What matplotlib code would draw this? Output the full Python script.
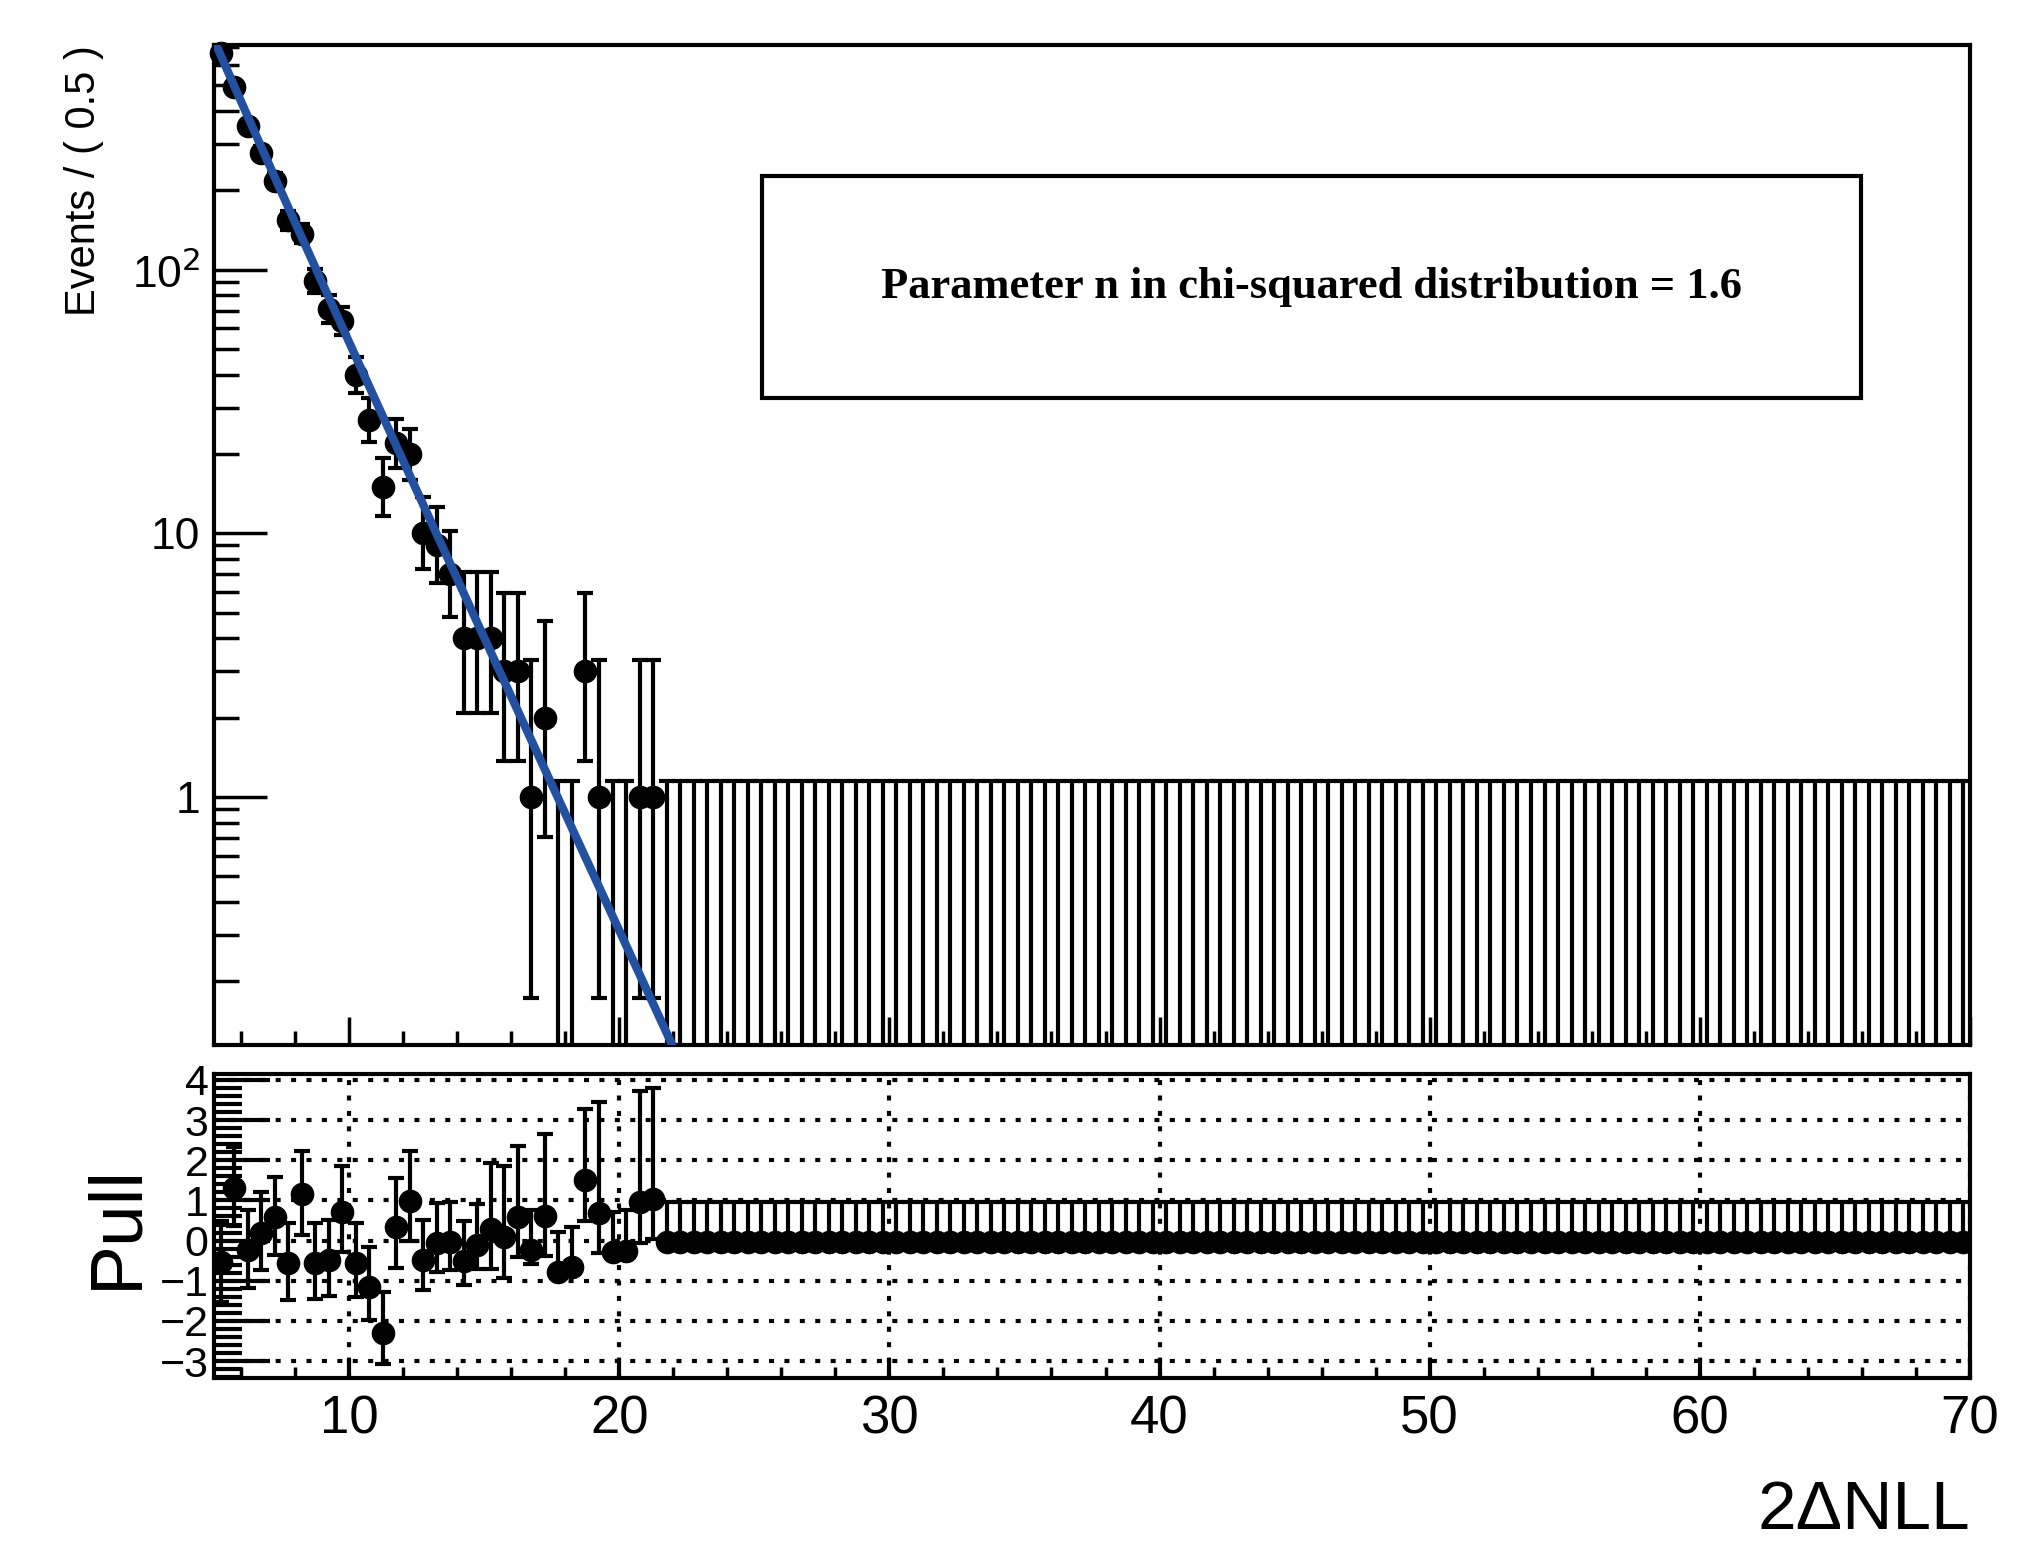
import numpy as np
import matplotlib
matplotlib.use("Agg")
import matplotlib.pyplot as plt
from matplotlib.ticker import LogLocator, NullFormatter, FixedLocator, MultipleLocator

plt.rcParams['font.family'] = ['Liberation Sans', 'DejaVu Sans']

bin_width = 0.5
x_min, x_max = 5.0, 70.0
centers = np.arange(x_min + bin_width / 2, x_max, bin_width)

counts_head = [665, 495, 352, 277, 218, 154, 137, 91, 71, 64, 40, 27, 15, 22, 20,
               10, 9, 7, 4, 4, 4, 3, 3, 1, 2, 0, 0, 3, 1, 0, 0, 1, 1]
counts = np.zeros(len(centers))
counts[:len(counts_head)] = counts_head

pulls_head = [-0.54, 1.32, -0.23, 0.2, 0.58, -0.56, 1.15, -0.56, -0.48, 0.72, -0.56,
              -1.15, -2.29, 0.33, 0.99, -0.49, -0.07, -0.04, -0.51, -0.1, 0.29, 0.08,
              0.58, -0.23, 0.62, -0.78, -0.66, 1.5, 0.68, -0.29, -0.25, 0.95, 1.03]
pulls = np.full(len(centers), -0.03)
pulls[:len(pulls_head)] = pulls_head

chi2_n = 1.6
norm = 12500.0

# Garwood Poisson intervals for small counts
garwood = {0: (0.0, 1.148), 1: (0.173, 3.300), 2: (0.708, 4.638), 3: (1.367, 5.918),
           4: (2.086, 7.163)}
lo = np.zeros(len(counts)); hi = np.zeros(len(counts))
for i, n in enumerate(counts):
    n = int(n)
    if n in garwood:
        l, h = garwood[n]
    else:
        l = n + 0.5 - np.sqrt(n + 0.25); h = n + 0.5 + np.sqrt(n + 0.25)
    lo[i] = n - l; hi[i] = h - n

model = lambda x: norm * x ** (chi2_n / 2 - 1) * np.exp(-x / 2)
mu = model(centers)
plo = np.where(counts > mu, 1.0, lo / np.where(hi > 0, hi, 1))
phi = np.where(counts > mu, hi / np.where(lo > 0, lo, 1), 1.0)
zero = counts == 0
plo[zero] = 0.0; phi[zero] = 1.0

fig = plt.figure(figsize=(20.23, 15.57), dpi=100)
ax = fig.add_axes([0.1058, 0.329, 0.868, 0.642])
axp = fig.add_axes([0.1058, 0.115, 0.868, 0.195])

ymin, ymax = 0.115, 711
floor = ymin * 0.5
y_eb = np.where(zero, floor, counts)
bot = np.maximum(counts - lo, floor)
ekw = dict(fmt='none', ecolor='black', elinewidth=3, capsize=6, capthick=3)
ax.errorbar(centers, y_eb, yerr=[y_eb - bot, counts + hi - y_eb], **ekw)
nz = ~zero
ax.plot(centers[nz], counts[nz], 'o', color='black', ms=16, zorder=3, clip_on=False)
xf = np.linspace(x_min, x_max, 2000)
ax.plot(xf, model(xf), color='#2350a0', lw=6, zorder=4)
ax.set_yscale('log')
ax.set_xlim(x_min, x_max); ax.set_ylim(ymin, ymax)
ax.yaxis.set_major_locator(FixedLocator([1, 10, 100]))
ax.set_yticklabels(['1', '10', r'10$^{2}$'])
ax.yaxis.set_minor_locator(LogLocator(base=10, subs=np.arange(2, 10)))
ax.yaxis.set_minor_formatter(NullFormatter())
ax.xaxis.set_major_locator(MultipleLocator(10))
ax.xaxis.set_minor_locator(MultipleLocator(2))
ax.set_xticklabels([])
ax.tick_params(axis='both', which='major', direction='in', length=38, width=2.5, labelsize=32, pad=10)
ax.tick_params(axis='both', which='minor', direction='in', length=18, width=2.5)
ax.tick_params(axis='x', which='major', length=20)
ax.tick_params(axis='x', which='minor', length=10)
ax.set_ylabel('Events / ( 0.5 )', fontsize=30, loc='top', labelpad=20)
for s in ax.spines.values():
    s.set_linewidth(3)
ax.add_patch(plt.Rectangle((0.312, 0.647), 0.626, 0.222, transform=ax.transAxes,
                           fill=False, lw=3, color='black'))
ax.text(0.625, 0.758, 'Parameter n in chi-squared distribution = 1.6', transform=ax.transAxes,
        ha='center', va='center', fontsize=32, fontweight='bold', family='Liberation Serif')

axp.errorbar(centers, pulls, yerr=[plo, phi], **ekw)
axp.plot(centers, pulls, 'o', color='black', ms=16, zorder=3)
axp.set_xlim(x_min, x_max); axp.set_ylim(-3.42, 4.14)
axp.yaxis.set_major_locator(FixedLocator([-3, -2, -1, 0, 1, 2, 3, 4]))
axp.set_yticklabels(['\u22123', '\u22122', '\u22121', '0', '1', '2', '3', '4'])
axp.yaxis.set_minor_locator(MultipleLocator(0.2))
axp.xaxis.set_major_locator(MultipleLocator(10))
axp.xaxis.set_minor_locator(MultipleLocator(2))
axp.grid(True, which='major', linestyle=(0, (1.2, 2.5)), color='black', lw=3)
axp.tick_params(axis='y', which='major', direction='in', length=40, width=3, labelsize=31)
axp.tick_params(axis='x', which='major', direction='in', length=14, width=3, labelsize=38, pad=12)
axp.tick_params(axis='y', which='minor', direction='in', length=20, width=3)
axp.tick_params(axis='x', which='minor', direction='in', length=8, width=2.5)
axp.tick_params(axis='y', pad=4)
for s in axp.spines.values():
    s.set_linewidth(3)
axp.set_ylabel('Pull', fontsize=54, labelpad=6)
axp.set_xlabel('2\u0394NLL', fontsize=50, loc='right', labelpad=25)

fig.savefig('out.png', dpi=100)
